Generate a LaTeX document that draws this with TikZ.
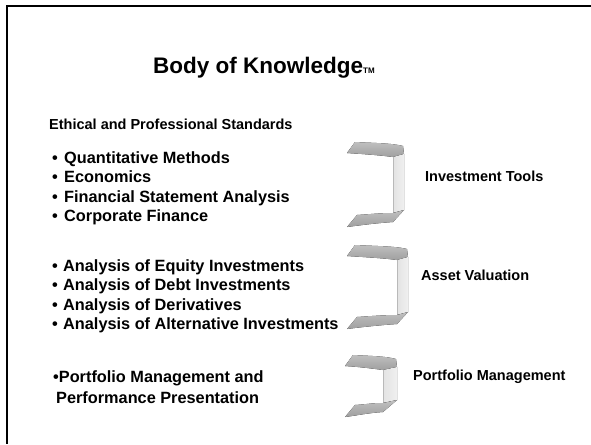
\documentclass[tikz,border=0pt]{standalone}
\usepackage{fontspec}
\setmainfont{Liberation Sans}
\usepackage{tikz}

% xl, xf, xb, ytop, ybottom
\newcommand{\slidebracket}[5]{%
  \fill[flange] (#1,#4+11) -- (#1+8,#4) .. controls (#1+25,#4+1) and (#3-12,#4+1) .. (#3-1,#4+4)
    -- (#3,#4+12) -- (#2,#4+15) .. controls (#2-15,#4+13) and (#1+15,#4+12) .. cycle;
  \fill[face] (#2,#4+15) -- (#3,#4+12) -- (#3,#5-17) -- (#2,#5-14) -- cycle;
  \draw[gray!55,line width=0.5pt] (#2,#4+15) -- (#2,#5-14);
  \fill[flange] (#1,#5) -- (#1+10,#5-12) .. controls (#1+25,#5-13) and (#2-12,#5-14) .. (#2,#5-14)
    -- (#3,#5-17) -- (#2,#5-5) .. controls (#2-15,#5-4) and (#1+15,#5-2) .. cycle;
}

\begin{document}
\begin{tikzpicture}[x=1pt,y=-1pt,
    txt/.style={anchor=base west,inner sep=0pt,font=\bfseries},
    bullets/.style={anchor=north west,inner sep=0pt,align=left,
      font=\fontsize{16.3}{19.6}\selectfont\bfseries},
    flange/.style={top color=gray!50,bottom color=gray!75},
    face/.style={left color=gray!22,right color=gray!12}]
  \useasboundingbox (0,0) rectangle (591,444);
  \draw[line width=2pt] (591,6) -- (7,6) -- (7,444);

  \node[txt,font=\fontsize{22.5}{27}\selectfont\bfseries] (title) at (153,74)
    {Body of Knowledge{\fontsize{8}{8}\selectfont TM}};
  \node[txt,font=\fontsize{14.5}{17}\selectfont\bfseries] (ethics) at (49,129)
    {Ethical and Professional Standards};

  % the three groups
  \node[bullets] (toolslist) at (52,151)
    {\makebox[12pt][l]{\textbullet}Quantitative Methods\\
     \makebox[12pt][l]{\textbullet}Economics\\
     \makebox[12pt][l]{\textbullet}Financial Statement Analysis\\
     \makebox[12pt][l]{\textbullet}Corporate Finance};
  \node[bullets] (valuelist) at (52,259)
    {\makebox[11pt][l]{\textbullet}Analysis of Equity Investments\\
     \makebox[11pt][l]{\textbullet}Analysis of Debt Investments\\
     \makebox[11pt][l]{\textbullet}Analysis of Derivatives\\
     \makebox[11pt][l]{\textbullet}Analysis of Alternative Investments};
  \node[bullets,font=\fontsize{16.3}{21}\selectfont\bfseries] (pmlist) at (53,370)
    {\textbullet Portfolio Management and\\
     \hspace{3pt}Performance Presentation};

  \slidebracket{347}{393}{404}{142}{227}
  \slidebracket{347}{397}{408}{245}{329}
  \slidebracket{345}{383}{397}{355}{417}

  \node[txt,font=\fontsize{14.5}{17}\selectfont\bfseries] (toolslbl) at (425,181) {Investment Tools};
  \node[txt,font=\fontsize{14.5}{17}\selectfont\bfseries] (assetlbl) at (421,280) {Asset Valuation};
  \node[txt,font=\fontsize{14.5}{17}\selectfont\bfseries] (pmlbl) at (413,380) {Portfolio Management};
\end{tikzpicture}
\end{document}
